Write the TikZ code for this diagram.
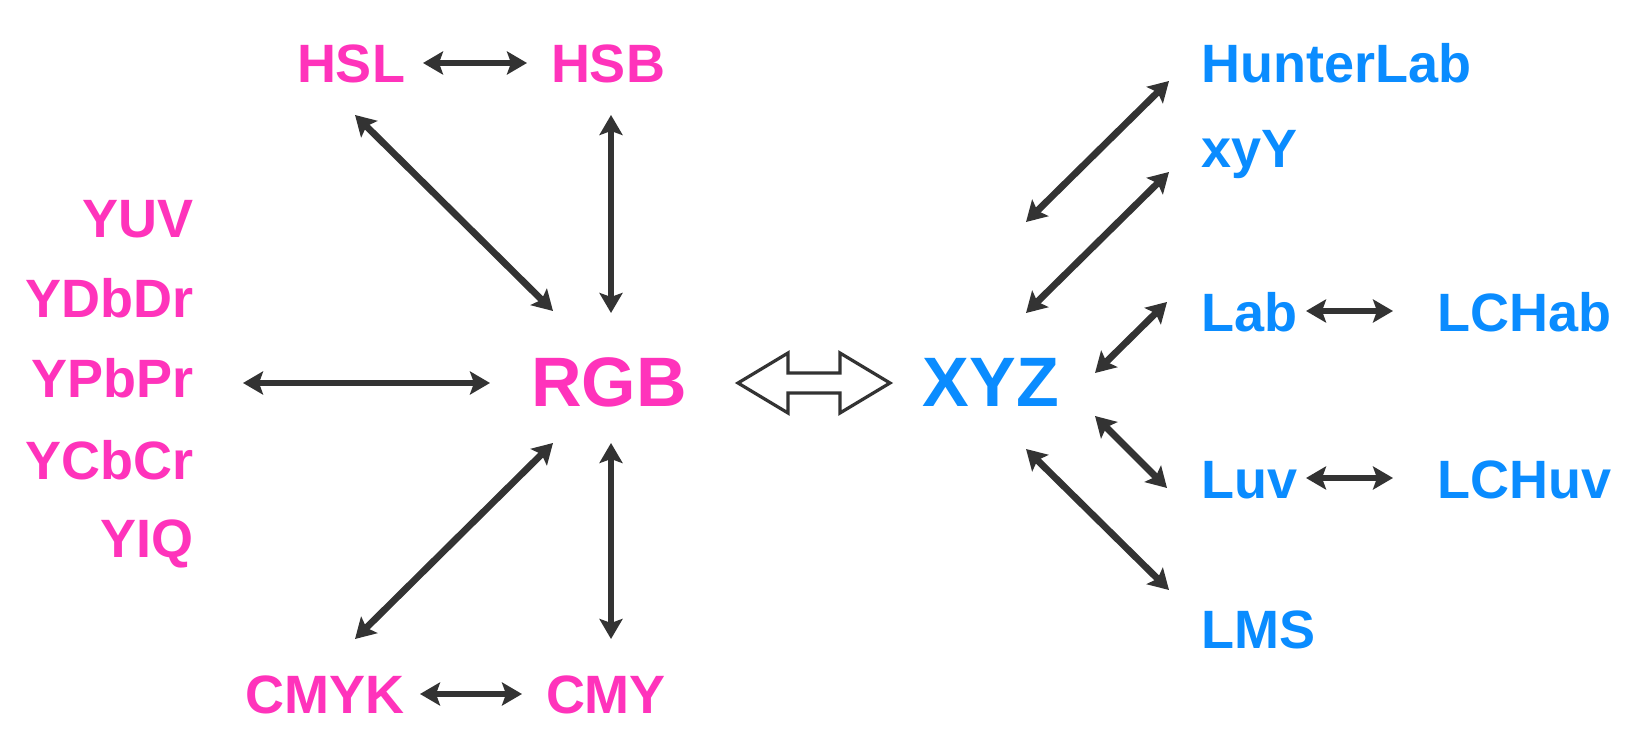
\documentclass[tikz,border=0pt]{standalone}
\usepackage{fontspec}
\setmainfont{Liberation Sans}
\usetikzlibrary{arrows.meta,calc}
\definecolor{cpink}{HTML}{FF33BB}
\definecolor{cblue}{HTML}{0A8CFF}
\definecolor{cdark}{HTML}{333333}
\begin{document}
\begin{tikzpicture}[x=0.5pt,y=-0.5pt,
  lbl/.style={inner sep=0pt,font=\bfseries\fontsize{27}{27}\selectfont},
  big/.style={inner sep=0pt,font=\bfseries\fontsize{35}{35}\selectfont},
  pk/.style={text=cpink},
  bl/.style={text=cblue},
  arr/.style={draw=cdark,line width=3.4pt,{Stealth[length=10pt,width=11.5pt,inset=2pt]}-{Stealth[length=10pt,width=11.5pt,inset=2pt]}},
  hollow/.style={draw=cdark,line width=1.6pt,fill=white,line join=miter}]
\useasboundingbox (0,0) rectangle (1636,747);
% left (pink)
\node[lbl,pk,anchor=base] (hsl) at (351,83) {HSL};
\node[lbl,pk,anchor=base] (hsb) at (608,83) {HSB};
\node[lbl,pk,anchor=base east] (yuv) at (194,238) {YUV};
\node[lbl,pk,anchor=base east] (ydbdr) at (194,318) {YDbDr};
\node[lbl,pk,anchor=base east] (ypbpr) at (194,398) {YPbPr};
\node[lbl,pk,anchor=base east] (ycbcr) at (194,480) {YCbCr};
\node[lbl,pk,anchor=base east] (yiq) at (194,558) {YIQ};
\node[big,pk,anchor=base] (rgb) at (609,407) {RGB};
\node[lbl,pk,anchor=base] (cmyk) at (325,713) {CMYK};
\node[lbl,pk,anchor=base] (cmy) at (606,713) {CMY};
% right (blue)
\node[big,bl,anchor=base] (xyz) at (991,407) {XYZ};
\node[lbl,bl,anchor=base west] (hunter) at (1201,83) {HunterLab};
\node[lbl,bl,anchor=base west] (xyy) at (1201,168) {xyY};
\node[lbl,bl,anchor=base west] (lab) at (1201,332) {Lab};
\node[lbl,bl,anchor=base west] (lchab) at (1437,332) {LCHab};
\node[lbl,bl,anchor=base west] (luv) at (1201,499) {Luv};
\node[lbl,bl,anchor=base west] (lchuv) at (1437,499) {LCHuv};
\node[lbl,bl,anchor=base west] (lms) at (1201,648) {LMS};
% connectors, left
\draw[arr] ($(hsl.base)+(72,-20)$) -- ($(hsb.base)+(-81,-20)$);
\draw[arr] ($(hsl.base)+(4,32)$) -- ($(rgb.base)+(-56,-96)$);
\draw[arr] ($(hsb.base)+(3,32)$) -- ($(rgb.base)+(2,-94)$);
\draw[arr] ($(ypbpr.base east)+(49,-15)$) -- ($(rgb.base)+(-119,-24)$);
\draw[arr] ($(rgb.base)+(-56,36)$) -- ($(cmyk.base)+(30,-74)$);
\draw[arr] ($(rgb.base)+(2,36)$) -- ($(cmy.base)+(5,-74)$);
\draw[arr] ($(cmyk.base)+(95,-19)$) -- ($(cmy.base)+(-84,-19)$);
% hollow double arrow between RGB and XYZ
\coordinate (hm) at ($(rgb.base)!0.5!(xyz.base)+(14,-24)$);
\draw[hollow] ($(hm)+(-76,0)$) -- ($(hm)+(-26,-30)$) -- ($(hm)+(-26,-10)$) -- ($(hm)+(26,-10)$)
  -- ($(hm)+(26,-30)$) -- ($(hm)+(76,0)$) -- ($(hm)+(26,30)$) -- ($(hm)+(26,10)$)
  -- ($(hm)+(-26,10)$) -- ($(hm)+(-26,30)$) -- cycle;
% connectors, right
\draw[arr] ($(xyz.base)+(35,-185)$) -- ($(hunter.base west)+(-32,-2)$);
\draw[arr] ($(xyz.base)+(35,-94)$) -- ($(xyy.base west)+(-32,4)$);
\draw[arr] ($(xyz.base)+(104,-34)$) -- ($(lab.base west)+(-34,-30)$);
\draw[arr] ($(xyz.base)+(104,9)$) -- ($(luv.base west)+(-34,-11)$);
\draw[arr] ($(xyz.base)+(35,42)$) -- ($(lms.base west)+(-32,-58)$);
\draw[arr] ($(lab.base west)+(105,-21)$) -- ($(lchab.base west)+(-44,-21)$);
\draw[arr] ($(luv.base west)+(105,-21)$) -- ($(lchuv.base west)+(-44,-21)$);
\end{tikzpicture}
\end{document}
